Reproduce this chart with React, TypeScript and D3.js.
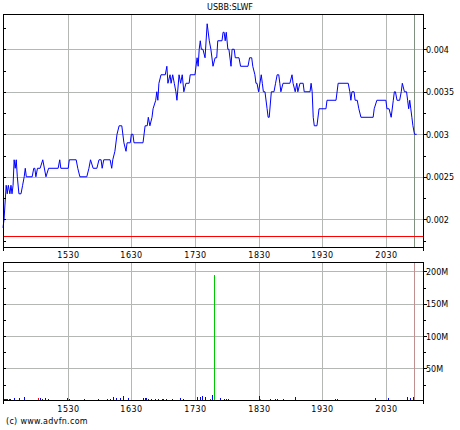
import React from 'react';
import * as d3 from 'd3';

const TITLE = 'USBB:SLWF';
const COPYRIGHT = '(c) www.advfn.com';

// time axis: minutes after 14:29 (session shown 14:29 - 21:05)
const SESSION_START = '14:29';
const SESSION_LENGTH = 396;
const hourTickLabels = ['1530', '1630', '1730', '1830', '1930', '2030'];

const priceTickValues = [0.002, 0.0025, 0.003, 0.0035, 0.004];
const priceTickLabels = ['0.002', '0.0025', '0.003', '0.0035', '0.004'];
const priceMinorStep = 0.00025;
const priceDomain = [0.001674, 0.004415];
const previousClose = 0.0018;
const lastTradeMinute = 388;

const volumeTickValues = [50e6, 100e6, 150e6, 200e6];
const volumeTickLabels = ['50M', '100M', '150M', '200M'];
const volumeMinorStep = 25e6;
const volumeDomain = [0, 214e6];

const priceMinutes = [
  0, 1, 3, 4, 5, 6.5, 7.5, 8.5, 9.5, 10.5, 11.5, 12.5, 13.5, 15, 17, 18.5, 20, 21, 22, 27.5,
  29, 30, 31, 32.5, 35, 37.5, 40.5, 43, 52, 53.5, 54.5, 61.5, 62.5, 69, 70.5, 72.5, 79, 81, 82.5, 85,
  88.5, 90.5, 92.5, 93.5, 95, 101, 102.5, 103.5, 105.5, 107.5, 109.5, 112, 114, 116, 117, 120, 121, 122.5, 123.5, 132,
  134, 136, 137, 138.5, 140.5, 141.5, 144, 145, 146, 147, 149, 153, 154.5, 155.5, 157.5, 158.5, 160, 161.5, 163, 164,
  166, 167.5, 169, 170.5, 172.5, 175.5, 176.5, 181, 183, 184, 185, 186, 187, 188.5, 190.5, 192.5, 194.5, 196, 198, 200,
  201.5, 202.5, 206.5, 207.5, 208.5, 209.5, 210.5, 212, 213, 215, 216, 218, 219, 222.5, 224, 231, 232.5, 234.5, 235.5, 237.5,
  238.5, 239.5, 241, 243.5, 244.5, 245.5, 247, 249, 250, 251, 253, 255.5, 257, 258.5, 260, 261, 262, 264, 270.5, 272.5,
  273.5, 275.5, 277, 278, 280, 283, 284, 289.5, 290.5, 291.5, 292.5, 293.5, 296, 298, 304.5, 305.5, 314, 316, 325.5, 327,
  328, 329, 331, 332, 334, 335.5, 337.5, 349, 350, 352.5, 361, 362, 364, 366, 368, 369, 370, 371.5, 374, 375.5,
  376.5, 378.5, 380.5, 381.5, 382.5, 383.5, 384.5, 385.5, 386.5, 388, 390,
];
const prices = [
  0.0019, 0.002, 0.0024, 0.0023, 0.0024, 0.0023, 0.0024, 0.0023, 0.0024, 0.0027, 0.0026, 0.0027, 0.0025, 0.0023, 0.0023, 0.0024, 0.0025, 0.0026, 0.0025, 0.0025,
  0.0026, 0.0026, 0.0025, 0.0026, 0.0026, 0.0027, 0.0025, 0.0026, 0.0026, 0.0027, 0.0026, 0.0026, 0.0027, 0.0027, 0.0026, 0.0025, 0.0025, 0.0026, 0.0027, 0.0026,
  0.0026, 0.0027, 0.0027, 0.0026, 0.0027, 0.0027, 0.0026, 0.0027, 0.0028, 0.003, 0.0031, 0.0031, 0.0029, 0.0028, 0.0029, 0.0029, 0.003, 0.003, 0.0029, 0.0029,
  0.0031, 0.0031, 0.0032, 0.0031, 0.0032, 0.0033, 0.0034, 0.0035, 0.0034, 0.0036, 0.0037, 0.0037, 0.0038, 0.0036, 0.0037, 0.0036, 0.0037, 0.0036, 0.0035, 0.0034,
  0.0037, 0.0036, 0.0037, 0.0035, 0.0036, 0.0036, 0.0037, 0.0037, 0.0039, 0.0038, 0.004, 0.0041, 0.004, 0.004, 0.0039, 0.0043, 0.0041, 0.004, 0.0038, 0.0039,
  0.0039, 0.0041, 0.0041, 0.0042, 0.0042, 0.0041, 0.0042, 0.004, 0.004, 0.0038, 0.004, 0.004, 0.0039, 0.0039, 0.0038, 0.0038, 0.0039, 0.0039, 0.0038, 0.0037,
  0.0036, 0.0036, 0.0035, 0.0037, 0.0036, 0.0035, 0.0035, 0.0033, 0.0032, 0.0032, 0.0035, 0.0035, 0.0036, 0.0037, 0.0037, 0.0036, 0.0035, 0.0036, 0.0036, 0.0037,
  0.0036, 0.0035, 0.0036, 0.0035, 0.0036, 0.0036, 0.0035, 0.0035, 0.0036, 0.0035, 0.0032, 0.0031, 0.0031, 0.0033, 0.0033, 0.0034, 0.0034, 0.0036, 0.0036, 0.0035,
  0.0034, 0.0035, 0.0035, 0.0034, 0.0034, 0.0033, 0.0032, 0.0032, 0.0033, 0.0034, 0.0034, 0.0033, 0.0033, 0.0032, 0.0034, 0.0035, 0.0035, 0.0034, 0.0034, 0.0035,
  0.0036, 0.0035, 0.0035, 0.0034, 0.0033, 0.0034, 0.0033, 0.0032, 0.0031, 0.003, 0.003,
];

const volumeMinutes = [
  0, 1, 2, 3, 4, 5, 6, 7, 8, 10, 15, 20, 33, 35, 37, 40, 42, 60, 62, 76,
  90, 98, 101, 104, 107, 110, 113, 118, 132, 134, 135, 137, 140, 143, 146, 150, 151, 154, 159, 167,
  170, 183, 186, 188, 190, 195, 197, 199, 205, 208, 210, 212, 241, 242, 252, 256, 258, 264, 275, 313,
  315, 351, 363, 381, 384, 387,
];
const volumesM = [
  4.6, 3.0, 2.0, 2.0, 2.0, 1.5, 2.0, 2.0, 1.5, 3.6, 4.6, 6.2, 4.6, 3.6, 2.5, 3.6, 3.0, 3.6, 2.3, 2.3,
  2.3, 2.3, 2.3, 6.2, 3.6, 3.6, 7.7, 3.6, 4.6, 4.6, 3.6, 3.0, 3.0, 2.3, 3.0, 2.3, 3.0, 2.3, 2.3, 3.6,
  2.3, 6.2, 5.0, 7.7, 5.0, 2.3, 8.7, 195, 3.6, 2.3, 2.3, 2.3, 7.2, 2.3, 2.3, 2.3, 2.3, 2.3, 5.0, 2.3,
  2.3, 3.6, 3.6, 6.2, 3.6, 5.0,
];
const volumeDirection = [
  'flat', 'flat', 'flat', 'flat', 'flat', 'flat', 'flat', 'flat', 'flat', 'flat', 'flat', 'flat', 'down', 'flat', 'flat', 'flat', 'flat', 'flat', 'flat', 'flat',
  'flat', 'flat', 'flat', 'flat', 'flat', 'flat', 'flat', 'flat', 'flat', 'flat', 'flat', 'flat', 'flat', 'flat', 'flat', 'flat', 'flat', 'flat', 'flat', 'flat',
  'flat', 'flat', 'flat', 'flat', 'flat', 'down', 'flat', 'up', 'flat', 'flat', 'flat', 'flat', 'flat', 'up', 'flat', 'flat', 'flat', 'flat', 'flat', 'flat',
  'flat', 'flat', 'flat', 'flat', 'flat', 'flat',
];

const W = 460;
const H = 430;
const LEFT = 3;
const RIGHT = 423;
const P_TOP = 14;
const P_BOTTOM = 247;
const V_TOP = 262.3;
const V_BOTTOM = 400.7;

const FONT = 'DejaVu Sans, sans-serif';
const GRID = '#b4b8b4';
const dirColor: Record<string, string> = { up: '#00c800', down: '#ff0000', flat: '#0000ff' };

const crisp = (v: number) => Math.round(v) + 0.5;

function hhmmToOffset(label: string) {
  const [sh, sm] = SESSION_START.split(':').map(Number);
  const h = +label.slice(0, 2);
  const m = +label.slice(2);
  return h * 60 + m - (sh * 60 + sm);
}

export default function App() {
  const x = d3.scaleLinear().domain([0, SESSION_LENGTH]).range([LEFT, RIGHT]);
  const yP = d3.scaleLinear().domain(priceDomain).range([P_BOTTOM, P_TOP]);
  const yV = d3.scaleLinear().domain(volumeDomain).range([V_BOTTOM, V_TOP]);

  const hourTicks = hourTickLabels.map((l) => ({ label: l, x: crisp(x(hhmmToOffset(l))) }));
  const priceMinor = d3.range(Math.ceil(priceDomain[0] / priceMinorStep), Math.floor(priceDomain[1] / priceMinorStep) + 1).map((k) => k * priceMinorStep);
  const volMinor = d3.range(1, Math.floor(volumeDomain[1] / volumeMinorStep) + 1).map((k) => k * volumeMinorStep);

  const line = d3
    .line<number>()
    .x((_, i) => x(priceMinutes[i]))
    .y((d) => yP(d));
  const pathD = line(prices) || '';

  const L = crisp(LEFT - 0.5);
  const R = crisp(RIGHT - 0.5);
  const pTop = crisp(P_TOP);
  const pBot = crisp(P_BOTTOM);
  const vTop = crisp(V_TOP - 0.5);
  const vBot = crisp(V_BOTTOM - 0.5);
  const markerX = crisp(x(lastTradeMinute) - 0.5);

  return (
    <svg width={W} height={H} style={{ position: 'absolute', left: 0, top: 0, background: '#fff' }} fontFamily={FONT}>
      <rect x={0} y={0} width={W} height={H} fill="#fff" />
      <text x={230} y={10} fontSize={8} textAnchor="middle" fill="#000">{TITLE}</text>

      {/* ---- price panel ---- */}
      <g shapeRendering="crispEdges">
        {hourTicks.map((t) => (
          <line key={'pv' + t.label} x1={t.x} x2={t.x} y1={pTop} y2={pBot} stroke={GRID} />
        ))}
        {priceTickValues.map((v) => (
          <line key={'ph' + v} x1={L} x2={R} y1={crisp(yP(v))} y2={crisp(yP(v))} stroke={GRID} />
        ))}
        <line x1={markerX} x2={markerX} y1={pTop} y2={pBot} stroke="#7f907f" />
        <line x1={L} x2={R} y1={crisp(yP(previousClose))} y2={crisp(yP(previousClose))} stroke="#ff0000" />
      </g>
      <path d={pathD} fill="none" stroke="#0000ff" strokeWidth={1} strokeLinejoin="miter" />
      <g shapeRendering="crispEdges" stroke="#000">
        <rect x={L} y={pTop} width={R - L} height={pBot - pTop} fill="none" />
        <line x1={L} x2={L} y1={pBot} y2={pBot + 3} />
        <line x1={R} x2={R} y1={pBot} y2={pBot + 3} />
        {priceMinor.map((v) => {
          const major = priceTickValues.some((t) => Math.abs(t - v) < 1e-9);
          const yy = crisp(yP(v));
          return (
            <g key={'pt' + v}>
              <line x1={R} x2={R + (major ? 3 : 2)} y1={yy} y2={yy} />
              <line x1={L} x2={L + 2} y1={yy} y2={yy} />
            </g>
          );
        })}
      </g>
      {priceTickValues.map((v, i) => (
        <text key={'pl' + v} x={426} y={yP(v) + 3.5} fontSize={8} fill="#000">{priceTickLabels[i]}</text>
      ))}
      {hourTicks.map((t) => (
        <text key={'px' + t.label} x={t.x} y={258} fontSize={8} letterSpacing={0.5} textAnchor="middle" fill="#000">{t.label}</text>
      ))}

      {/* ---- volume panel ---- */}
      <g shapeRendering="crispEdges">
        {hourTicks.map((t) => (
          <line key={'vv' + t.label} x1={t.x} x2={t.x} y1={vTop} y2={vBot} stroke={GRID} />
        ))}
        {volumeTickValues.map((v) => (
          <line key={'vh' + v} x1={L} x2={R} y1={crisp(yV(v))} y2={crisp(yV(v))} stroke={GRID} />
        ))}
        <line x1={markerX} x2={markerX} y1={vTop} y2={vBot} stroke="#c09090" />
        {volumeMinutes.map((m, i) => {
          const bx = Math.round(x(m));
          const top = yV(volumesM[i] * 1e6);
          return (
            <rect key={'vb' + i} x={bx} y={top} width={1} height={yV(0) - top} fill={dirColor[volumeDirection[i]]} />
          );
        })}
      </g>
      <g shapeRendering="crispEdges" stroke="#000">
        <rect x={L} y={vTop} width={R - L} height={vBot - vTop} fill="none" />
        <line x1={L} x2={L} y1={vBot} y2={vBot + 3} />
        <line x1={R} x2={R} y1={vBot} y2={vBot + 3} />
        {volMinor.map((v) => {
          const major = volumeTickValues.includes(v);
          const yy = crisp(yV(v));
          return (
            <g key={'vt' + v}>
              <line x1={R} x2={R + (major ? 3 : 2)} y1={yy} y2={yy} />
              <line x1={L} x2={L + 2} y1={yy} y2={yy} />
            </g>
          );
        })}
      </g>
      {volumeTickValues.map((v, i) => (
        <text key={'vl' + v} x={426} y={yV(v) + 3.5} fontSize={8} fill="#000">{volumeTickLabels[i]}</text>
      ))}
      {hourTicks.map((t) => (
        <text key={'vx' + t.label} x={t.x} y={412} fontSize={8} letterSpacing={0.5} textAnchor="middle" fill="#000">{t.label}</text>
      ))}

      <text x={6} y={424} fontSize={8} letterSpacing={0.3} fill="#000">{COPYRIGHT}</text>
    </svg>
  );
}
